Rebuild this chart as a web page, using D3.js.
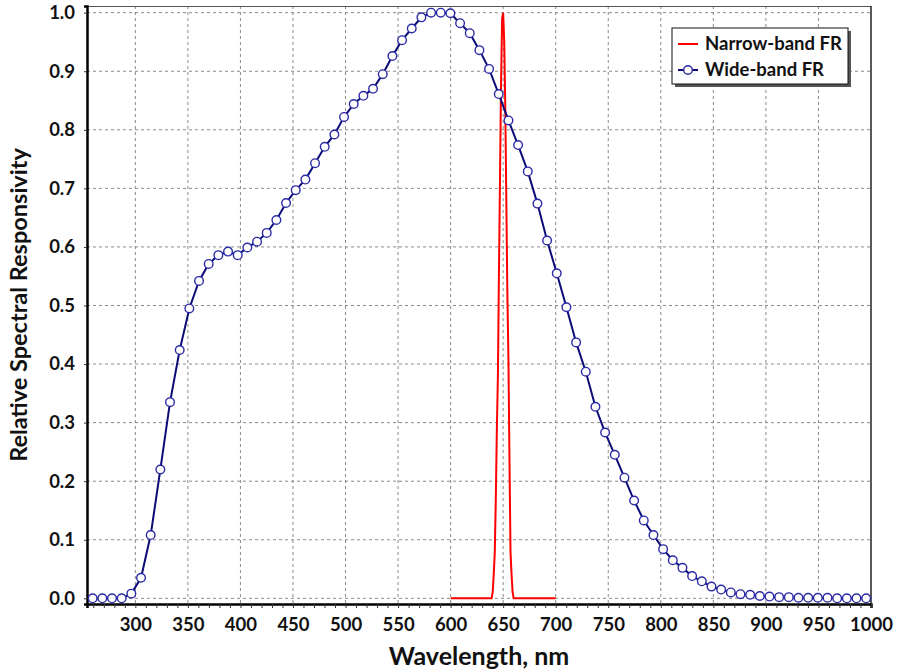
<!DOCTYPE html>
<html>
<head>
<meta charset="utf-8">
<script src="https://cdn.jsdelivr.net/npm/d3@7/dist/d3.min.js"></script>
<style>
  html, body { margin: 0; padding: 0; background: #fff; }
  svg { display: block; font-family: Lato, "Open Sans", sans-serif; }
</style>
</head>
<body>
<div id="chart"></div>
<script>
// wide-band FR, markers
const wideWavelengths = [
  259.4, 268.6, 277.8, 287.0, 296.2, 305.4, 314.6, 323.8, 333.0, 342.2,
  351.4, 360.6, 369.8, 379.0, 388.2, 397.4, 406.6, 415.8, 425.0, 434.2,
  443.4, 452.6, 461.8, 471.0, 480.2, 489.4, 498.6, 507.8, 517.0, 526.2,
  535.4, 544.6, 553.8, 563.0, 572.2, 581.4, 590.6, 599.8, 609.0, 618.2,
  627.4, 636.6, 645.8, 655.0, 664.2, 673.4, 682.6, 691.8, 701.0, 710.2,
  719.4, 728.6, 737.8, 747.0, 756.2, 765.4, 774.6, 783.8, 793.0, 802.2,
  811.4, 820.6, 829.8, 839.0, 848.2, 857.4, 866.6, 875.8, 885.0, 894.2,
  903.4, 912.6, 921.8, 931.0, 940.2, 949.4, 958.6, 967.8, 977.0, 986.2,
  995.4
];
const wideValues = [
  0.000, 0.000, 0.000, 0.000, 0.008, 0.035, 0.108, 0.220, 0.335, 0.424,
  0.495, 0.542, 0.571, 0.586, 0.592, 0.586, 0.599, 0.609, 0.624, 0.646,
  0.675, 0.697, 0.715, 0.743, 0.771, 0.792, 0.822, 0.844, 0.858, 0.870,
  0.895, 0.926, 0.953, 0.973, 0.992, 1.000, 1.000, 0.999, 0.982, 0.965,
  0.936, 0.904, 0.861, 0.816, 0.774, 0.729, 0.674, 0.611, 0.555, 0.497,
  0.437, 0.387, 0.327, 0.283, 0.245, 0.206, 0.167, 0.133, 0.108, 0.084,
  0.065, 0.052, 0.038, 0.029, 0.020, 0.015, 0.010, 0.007, 0.006, 0.004,
  0.003, 0.002, 0.002, 0.001, 0.001, 0.001, 0.001, 0.000, 0.000, 0.000,
  0.000
];

// narrow-band FR
const narrowWavelengths = [600, 639, 640, 641, 642, 643, 644, 645, 646, 647, 648, 649, 650,
  651, 652, 653, 654, 655, 656, 657, 658, 659, 660, 700];
const narrowValues = [0, 0, 0.01, 0.04, 0.078, 0.17, 0.29, 0.38, 0.56, 0.72, 0.88, 0.99, 1.0,
  0.95, 0.84, 0.68, 0.52, 0.41, 0.235, 0.078, 0.04, 0.01, 0, 0];

const xTicks = [300, 350, 400, 450, 500, 550, 600, 650, 700, 750, 800, 850, 900, 950, 1000];
const yTicks = [0, 0.1, 0.2, 0.3, 0.4, 0.5, 0.6, 0.7, 0.8, 0.9, 1.0];

const seriesNames = ['Narrow-band FR', 'Wide-band FR'];

const width = 897, height = 672;
const margin = { top: 6, right: 26, bottom: 68, left: 87 };
const innerWidth = width - margin.left - margin.right;
const innerHeight = height - margin.top - margin.bottom;

const svg = d3.select('#chart').append('svg')
  .attr('width', width)
  .attr('height', height);

const g = svg.append('g')
  .attr('transform', `translate(${margin.left},${margin.top})`);

const x = d3.scaleLinear().domain([254, 1000]).range([0, innerWidth]);
const y = d3.scaleLinear().domain([-0.0097, 1.0114]).range([innerHeight, 0]);

// grid
g.append('g').selectAll('line.vg')
  .data(xTicks.filter(d => d < 1000))
  .join('line')
  .attr('x1', d => x(d)).attr('x2', d => x(d))
  .attr('y1', 0).attr('y2', innerHeight)
  .attr('stroke', '#8a8a8a').attr('stroke-width', 1)
  .attr('stroke-dasharray', '3,3');

g.append('g').selectAll('line.hg')
  .data(yTicks)
  .join('line')
  .attr('x1', 0).attr('x2', innerWidth)
  .attr('y1', d => y(d)).attr('y2', d => y(d))
  .attr('stroke', '#8a8a8a').attr('stroke-width', 1)
  .attr('stroke-dasharray', '3,3');

// frame: top and right thin
g.append('line').attr('x1', 0).attr('x2', innerWidth).attr('y1', 0.5).attr('y2', 0.5)
  .attr('stroke', '#555').attr('stroke-width', 1.2);
g.append('line').attr('x1', innerWidth).attr('x2', innerWidth).attr('y1', 0).attr('y2', innerHeight)
  .attr('stroke', '#222').attr('stroke-width', 1.5);

// x axis with minor ticks every 10 nm
const minorX = d3.range(260, 1001, 10);
const xAxis = g.append('g')
  .attr('transform', `translate(0,${innerHeight})`)
  .call(d3.axisBottom(x).tickValues(minorX).tickSize(4).tickFormat(''));
xAxis.select('.domain').attr('stroke', '#000').attr('stroke-width', 2.5);
xAxis.selectAll('.tick line').attr('stroke', '#333').attr('stroke-width', 1);
xAxis.selectAll('.tick text').remove();

const xLabels = g.append('g')
  .attr('transform', `translate(0,${innerHeight})`)
  .call(d3.axisBottom(x).tickValues(xTicks).tickSize(0).tickPadding(14).tickFormat(d3.format('d')));
xLabels.select('.domain').remove();
xLabels.selectAll('text')
  .style('font-family', 'Lato, sans-serif')
  .style('font-size', '18.5px')
  .style('font-weight', '700')
  .attr('fill', '#111');

// y axis
const yAxis = g.append('g')
  .call(d3.axisLeft(y).tickValues(yTicks).tickSize(3).tickPadding(9).tickFormat(d3.format('.1f')));
yAxis.select('.domain').attr('stroke', '#000').attr('stroke-width', 2.5);
yAxis.selectAll('.tick line').attr('stroke', '#333');
yAxis.selectAll('text')
  .style('font-family', 'Lato, sans-serif')
  .style('font-size', '18.5px')
  .style('font-weight', '700')
  .attr('fill', '#111');

// narrow-band line
const line = d3.line().x(d => x(d[0])).y(d => y(d[1]));
g.append('path')
  .datum(d3.zip(narrowWavelengths, narrowValues))
  .attr('d', line)
  .attr('fill', 'none')
  .attr('stroke', '#ff0000')
  .attr('stroke-width', 2);

// wide-band line + markers
const wideData = d3.zip(wideWavelengths, wideValues);
g.append('path')
  .datum(wideData)
  .attr('d', line)
  .attr('fill', 'none')
  .attr('stroke', '#0c0c78')
  .attr('stroke-width', 2);

g.append('g').selectAll('circle')
  .data(wideData)
  .join('circle')
  .attr('cx', d => x(d[0]))
  .attr('cy', d => y(d[1]))
  .attr('r', 4.3)
  .attr('fill', '#fff')
  .attr('stroke', '#2a2aa6')
  .attr('stroke-width', 1.4);

// axis titles
svg.append('text')
  .attr('x', margin.left + innerWidth / 2)
  .attr('y', 665)
  .attr('text-anchor', 'middle')
  .style('font-size', '25px')
  .style('font-weight', '700')
  .attr('fill', '#111')
  .text('Wavelength, nm');

svg.append('text')
  .attr('transform', 'rotate(-90)')
  .attr('x', -305)
  .attr('y', 27)
  .attr('text-anchor', 'middle')
  .style('font-size', '23.5px')
  .style('font-weight', '700')
  .attr('fill', '#111')
  .text('Relative Spectral Responsivity');

// legend
const lg = svg.append('g').attr('transform', 'translate(672,28)');
lg.append('rect').attr('x', 3).attr('y', 3).attr('width', 176).attr('height', 56).attr('fill', '#555');
lg.append('rect').attr('x', 0).attr('y', 0).attr('width', 176).attr('height', 56)
  .attr('fill', '#fff').attr('stroke', '#111').attr('stroke-width', 1);

lg.append('line').attr('x1', 6).attr('x2', 26).attr('y1', 16).attr('y2', 16)
  .attr('stroke', '#ff0000').attr('stroke-width', 2);
lg.append('line').attr('x1', 6).attr('x2', 26).attr('y1', 42).attr('y2', 42)
  .attr('stroke', '#0c0c78').attr('stroke-width', 2);
lg.append('circle').attr('cx', 16).attr('cy', 42).attr('r', 4.3)
  .attr('fill', '#fff').attr('stroke', '#2a2aa6').attr('stroke-width', 1.4);

lg.selectAll('text.lbl')
  .data(seriesNames)
  .join('text')
  .attr('x', 33)
  .attr('y', (d, i) => 16 + i * 26)
  .attr('dy', '0.35em')
  .style('font-size', '18.5px')
  .style('font-weight', '700')
  .attr('fill', '#111')
  .text(d => d);
</script>
</body>
</html>
